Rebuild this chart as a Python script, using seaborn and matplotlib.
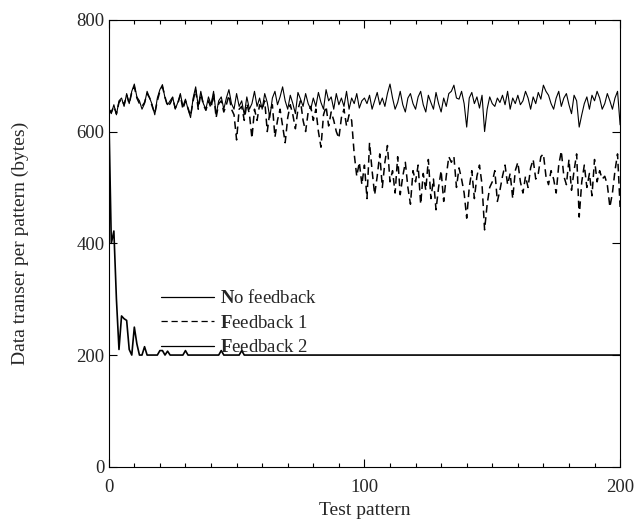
import numpy as np
import pandas as pd
import matplotlib
matplotlib.use("Agg")
import matplotlib.pyplot as plt
import seaborn as sns
from matplotlib.ticker import MultipleLocator

# ------------------------------
# data
# ------------------------------
patterns = list(range(0, 201))

no_feedback = [
    640, 632, 648, 630, 655, 660, 645, 668, 650, 672, 685, 662, 655, 640, 650, 672, 660, 648, 630, 660,
    675, 684, 660, 648, 655, 662, 640, 652, 668, 645, 658, 640, 625, 660, 680, 645, 672, 650, 640, 662,
    648, 672, 630, 655, 662, 640, 660, 675, 650, 640, 668, 645, 655, 630, 662, 640, 650, 672, 645, 660,
    640, 668, 652, 625, 660, 672, 648, 662, 680, 655, 640, 665, 650, 632, 670, 658, 645, 668, 650, 640,
    660, 645, 670, 652, 640, 675, 655, 662, 640, 668, 648, 660, 645, 672, 640, 660, 650, 668, 642, 655,
    660, 650, 665, 640, 655, 670, 648, 660, 645, 668, 685, 660, 640, 652, 672, 648, 635, 660, 668, 650,
    640, 662, 672, 648, 635, 665, 652, 640, 670, 650, 635, 660, 645, 668, 672, 683, 660, 658, 672, 650,
    608, 660, 670, 650, 662, 642, 665, 600, 640, 662, 650, 645, 660, 652, 665, 648, 672, 640, 660, 650,
    665, 648, 655, 672, 660, 640, 662, 650, 670, 658, 683, 672, 665, 650, 640, 660, 672, 645, 660, 668,
    648, 632, 665, 655, 608, 630, 650, 662, 640, 665, 655, 672, 660, 640, 650, 668, 655, 640, 660, 672,
    612,
]

feedback_1 = [
    640, 635, 645, 632, 652, 658, 648, 665, 650, 670, 680, 660, 650, 645, 652, 668, 660, 645, 632, 655,
    672, 680, 662, 645, 650, 660, 642, 650, 665, 640, 655, 642, 628, 655, 675, 640, 668, 648, 638, 655,
    642, 668, 625, 650, 655, 635, 648, 665, 640, 630, 585, 640, 645, 620, 650, 632, 588, 640, 620, 648,
    640, 655, 600, 635, 648, 590, 620, 640, 610, 580, 625, 648, 630, 605, 640, 655, 620, 600, 635, 645,
    620, 640, 600, 572, 630, 645, 610, 635, 620, 600, 588, 625, 640, 610, 630, 620, 560, 520, 545, 505,
    540, 480, 580, 530, 487, 520, 560, 500, 545, 575, 510, 530, 490, 555, 487, 520, 545, 500, 470, 530,
    510, 540, 470, 525, 495, 550, 480, 515, 460, 500, 530, 475, 520, 555, 545, 555, 500, 535, 515, 490,
    445, 500, 530, 480, 520, 540, 505, 424, 470, 500, 510, 530, 475, 495, 520, 540, 505, 525, 480, 530,
    545, 510, 490, 520, 500, 535, 550, 515, 525, 555, 560, 520, 505, 530, 515, 490, 540, 565, 520, 505,
    550, 495, 530, 560, 447, 510, 540, 500, 525, 485, 550, 510, 530, 515, 520, 505, 465, 490, 530, 560,
    465,
]

feedback_2 = [
    640, 400, 422, 300, 210, 270, 265, 262, 210, 200, 250, 220, 200, 200, 215, 200, 200, 200, 200, 200,
    208, 208, 200, 207, 200, 200, 200, 200, 200, 200, 208, 200, 200, 200, 200, 200, 200, 200, 200, 200,
    200, 200, 200, 200, 208, 200, 200, 200, 200, 200, 200, 200, 208, 200, 200, 200, 200, 200, 200, 200,
    200, 200, 200, 200, 200, 200, 200, 200, 200, 200, 200, 200, 200, 200, 200, 200, 200, 200, 200, 200,
    200, 200, 200, 200, 200, 200, 200, 200, 200, 200, 200, 200, 200, 200, 200, 200, 200, 200, 200, 200,
    200, 200, 200, 200, 200, 200, 200, 200, 200, 200, 200, 200, 200, 200, 200, 200, 200, 200, 200, 200,
    200, 200, 200, 200, 200, 200, 200, 200, 200, 200, 200, 200, 200, 200, 200, 200, 200, 200, 200, 200,
    200, 200, 200, 200, 200, 200, 200, 200, 200, 200, 200, 200, 200, 200, 200, 200, 200, 200, 200, 200,
    200, 200, 200, 200, 200, 200, 200, 200, 200, 200, 200, 200, 200, 200, 200, 200, 200, 200, 200, 200,
    200, 200, 200, 200, 200, 200, 200, 200, 200, 200, 200, 200, 200, 200, 200, 200, 200, 200, 200, 200,
    200,
]

# ------------------------------
# style
# ------------------------------
sns.set_style("ticks")
plt.rcParams['font.family'] = ['Liberation Serif', 'DejaVu Serif']
plt.rcParams['mathtext.fontset'] = 'custom'
plt.rcParams['mathtext.rm'] = 'Liberation Serif'
plt.rcParams['mathtext.bf'] = 'Liberation Serif:bold'

fig = plt.figure(figsize=(6.36, 5.21), dpi=100)
ax = fig.add_axes([0.171, 0.104, 0.804, 0.858])

sns.lineplot(x=patterns, y=no_feedback, ax=ax, color='black', linewidth=0.8,
             label=r'$\mathbf{N}$o feedback')
sns.lineplot(x=patterns, y=feedback_1, ax=ax, color='black', linewidth=1.1,
             dashes=False, label=r'$\mathbf{F}$eedback 1')
ax.lines[-1].set_dashes([5, 3])
sns.lineplot(x=patterns, y=feedback_2, ax=ax, color='black', linewidth=1.2,
             label=r'$\mathbf{F}$eedback 2')

ax.set_xlim(0, 200)
ax.set_ylim(0, 800)
ax.xaxis.set_major_locator(MultipleLocator(100))
ax.xaxis.set_minor_locator(MultipleLocator(10))
ax.yaxis.set_major_locator(MultipleLocator(200))

ax.tick_params(which='both', direction='in', top=True, right=True,
               labelsize=13.5, color='black', width=0.8)
ax.tick_params(which='major', length=6)
ax.tick_params(which='minor', length=3)
ax.tick_params(axis='x', which='major', pad=9)
ax.tick_params(axis='y', which='major', pad=3)
for sp in ax.spines.values():
    sp.set_visible(True)
    sp.set_color('black')
    sp.set_linewidth(0.8)

ax.set_xlabel('Test pattern', fontsize=14, labelpad=4)
ax.set_ylabel('Data transer per pattern (bytes)', fontsize=14, labelpad=34)

leg = ax.legend(loc='upper left', bbox_to_anchor=(0.07, 0.435), frameon=False,
                fontsize=13.5, handlelength=2.8, handletextpad=0.3, labelspacing=0.4)
for h in leg.get_lines():
    h.set_linewidth(0.9)

fig.savefig('out.png', dpi=100, facecolor='white')
